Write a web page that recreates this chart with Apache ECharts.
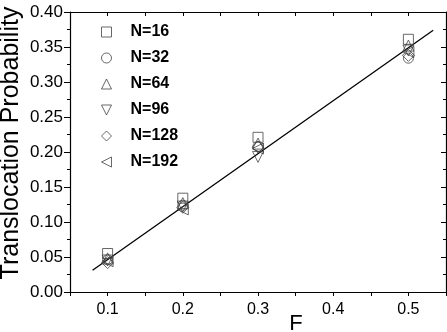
<!DOCTYPE html>
<html>
<head>
<meta charset="utf-8">
<script src="https://cdn.jsdelivr.net/npm/echarts@6/dist/echarts.min.js"></script>
<style>
  html, body { margin: 0; padding: 0; background: #fff; }
  #chart { width: 447px; height: 332px; }
</style>
</head>
<body>
<div id="chart"></div>
<script>
const fValues = [0.1, 0.2, 0.3, 0.5];
const n16 = [0.055, 0.134, 0.221, 0.361];
const n32 = [0.046, 0.124, 0.208, 0.334];
const n64 = [0.048, 0.127, 0.212, 0.352];
const n96 = [0.045, 0.122, 0.193, 0.345];
const n128 = [0.042, 0.121, 0.207, 0.338];
const n192 = [0.044, 0.118, 0.205, 0.343];
const fitX = [0.08, 0.533];
const fitY = [0.031, 0.374];

// down and left pointing triangles as paths, so the legend shows them too
const downTri = 'path://M0,0L10,0L5,10Z';
const leftTri = 'path://M10,0L10,10L0,5Z';

const seriesDefs = [
  { name: 'N=16', data: n16, symbol: 'rect', size: 10 },
  { name: 'N=32', data: n32, symbol: 'circle', size: 10 },
  { name: 'N=64', data: n64, symbol: 'triangle', size: 11 },
  { name: 'N=96', data: n96, symbol: downTri, size: 11 },
  { name: 'N=128', data: n128, symbol: 'diamond', size: 12 },
  { name: 'N=192', data: n192, symbol: leftTri, size: 11 }
];

const myChart = echarts.init(document.getElementById('chart'));
const font = '"Liberation Sans", Arial, sans-serif';

const series = seriesDefs.map(function (s) {
  return {
    name: s.name,
    type: 'scatter',
    symbol: s.symbol,
    symbolSize: s.size,
    itemStyle: { color: 'rgba(0,0,0,0)', borderColor: '#444', borderWidth: 1 },
    data: fValues.map(function (f, i) { return [f, s.data[i]]; })
  };
});
series.push({
  name: 'fit',
  type: 'line',
  showSymbol: false,
  lineStyle: { color: '#000', width: 1.3 },
  data: fitX.map(function (x, i) { return [x, fitY[i]]; }),
  z: 1
});

const option = {
  animation: false,
  textStyle: { fontFamily: font },
  grid: { left: 70, right: 1, top: 12, bottom: 40, outerBoundsMode: 'none', containLabel: false },
  legend: {
    orient: 'vertical',
    left: 96,
    top: 19,
    itemWidth: 10,
    itemHeight: 10,
    itemGap: 10,
    data: seriesDefs.map(function (s) { return { name: s.name, icon: s.symbol }; }),
    itemStyle: { color: 'rgba(0,0,0,0)', borderColor: '#444', borderWidth: 1 },
    textStyle: { fontFamily: font, fontSize: 16, fontWeight: 'bold', color: '#000', padding: [0, 0, 0, 14] }
  },
  xAxis: [
    {
      type: 'value',
      min: 0.05,
      max: 0.55,
      interval: 0.05,
      name: 'F',
      nameLocation: 'middle',
      nameMoveOverlap: false,
      nameGap: 21,
      nameTextStyle: { fontSize: 22, color: '#000', padding: [0, 0, 0, 76] },
      axisLine: { onZero: false, lineStyle: { color: '#000', width: 1.2 } },
      axisTick: { length: 4, lineStyle: { color: '#000' } },
      axisLabel: {
        fontSize: 16,
        color: '#000',
        margin: 10,
        formatter: function (v) {
          const k = Math.round(v * 100);
          return k % 10 === 0 ? (k / 100).toFixed(1) : '';
        }
      },
      splitLine: { show: false }
    },
    {
      type: 'value',
      position: 'top',
      min: 0.05,
      max: 0.55,
      interval: 0.05,
      axisLine: { onZero: false, lineStyle: { color: '#000', width: 1.2 } },
      axisTick: { inside: true, length: 4, lineStyle: { color: '#000' } },
      axisLabel: { show: false },
      splitLine: { show: false }
    }
  ],
  yAxis: [
    {
      type: 'value',
      min: 0,
      max: 0.4,
      interval: 0.05,
      name: 'Translocation Probability',
      nameLocation: 'middle',
      nameMoveOverlap: false,
      nameGap: 46,
      nameTextStyle: { fontSize: 25, color: '#000', padding: [0, 0, 0, 18] },
      axisLine: { onZero: false, lineStyle: { color: '#000', width: 1.2 } },
      axisTick: { length: 6, lineStyle: { color: '#000' } },
      minorTick: { show: true, splitNumber: 2, length: 3, lineStyle: { color: '#000' } },
      axisLabel: {
        fontSize: 17,
        color: '#000',
        margin: 7,
        formatter: function (v) { return v.toFixed(2); }
      },
      splitLine: { show: false }
    },
    {
      type: 'value',
      position: 'right',
      min: 0,
      max: 0.4,
      interval: 0.05,
      axisLine: { onZero: false, lineStyle: { color: '#000', width: 1.2 } },
      axisTick: { inside: true, length: 5, lineStyle: { color: '#000' } },
      minorTick: { show: true, splitNumber: 2, length: 3, lineStyle: { color: '#000' } },
      axisLabel: { show: false },
      splitLine: { show: false }
    }
  ],
  series: series
};

myChart.setOption(option);
</script>
</body>
</html>
